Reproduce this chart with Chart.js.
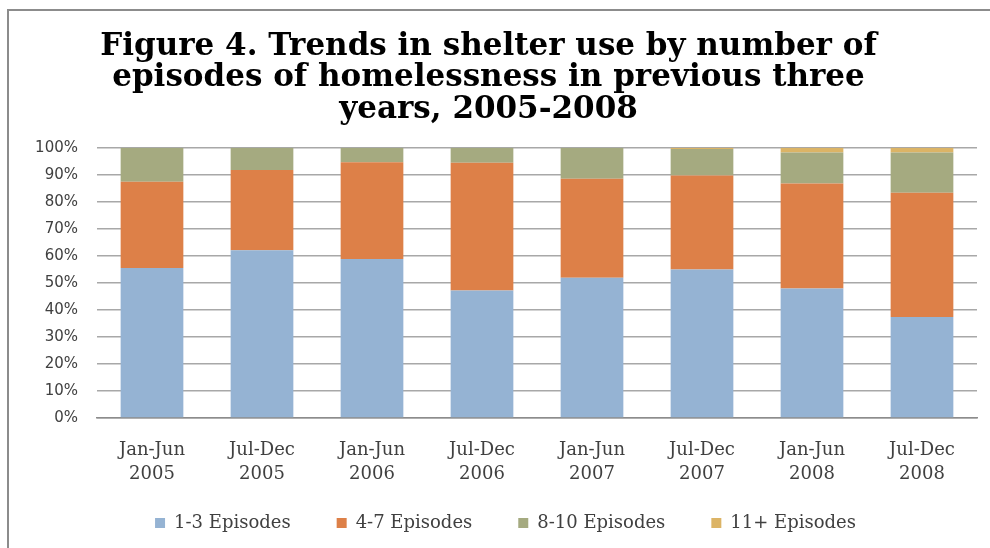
<!DOCTYPE html>
<html>
<head>
<meta charset="utf-8">
<script src="https://cdn.jsdelivr.net/npm/chart.js@4/dist/chart.umd.min.js"></script>
<style>
  html, body { margin: 0; padding: 0; background: #fff; }
</style>
</head>
<body>
<canvas id="chart" width="990" height="548"></canvas>
<script>
const periods = [
  ['Jan-Jun', '2005'], ['Jul-Dec', '2005'],
  ['Jan-Jun', '2006'], ['Jul-Dec', '2006'],
  ['Jan-Jun', '2007'], ['Jul-Dec', '2007'],
  ['Jan-Jun', '2008'], ['Jul-Dec', '2008']
];
const ep1to3 = [55.5, 62.1, 58.9, 47.2, 51.9, 55.0, 47.9, 37.4];
const ep4to7 = [32.0, 29.7, 35.8, 47.3, 36.7, 34.8, 38.9, 46.0];
const ep8to10 = [12.5, 8.2, 5.3, 5.5, 11.4, 9.8, 11.5, 14.9];
const ep11plus = [0, 0, 0, 0, 0, 0.4, 1.7, 1.7];

const serif = "'DejaVu Serif', serif";
const legendGap = 46;

// frame + legend placement tweaks
const framePlugin = {
  id: 'frame',
  beforeLayout(chart) {
    // the big horizontal gap between legend items should not add height
    const lg = chart.legend;
    if (lg && !lg._patched) {
      const fit = lg.fit.bind(lg);
      lg.fit = function () { fit(); this.height = 55; };
      lg._patched = true;
    }
  },
  afterLayout(chart) {
    const lg = chart.legend;
    lg.left += 17;
    lg.right += 17;
    lg.top = 514 - legendGap;
  },
  beforeDraw(chart) {
    const c = chart.ctx;
    c.save();
    c.strokeStyle = '#8c8c8c';
    c.lineWidth = 2;
    c.beginPath();
    c.moveTo(8, chart.height);
    c.lineTo(8, 10);
    c.lineTo(chart.width, 10);
    c.stroke();
    c.restore();
  }
};

const ctx = document.getElementById('chart');

const chart = new Chart(ctx, {
  type: 'bar',
  data: {
    labels: periods,
    datasets: [
      { label: '1-3 Episodes', data: ep1to3, backgroundColor: '#95b3d3' },
      { label: '4-7 Episodes', data: ep4to7, backgroundColor: '#dd8048' },
      { label: '8-10 Episodes', data: ep8to10, backgroundColor: '#a5aa80' },
      { label: '11+ Episodes', data: ep11plus, backgroundColor: '#dcb466' }
    ]
  },
  options: {
    responsive: false,
    animation: false,
    layout: { padding: { left: 0, right: 13, top: 18, bottom: 5 } },
    datasets: { bar: { barPercentage: 0.57, categoryPercentage: 1.0 } },
    scales: {
      x: {
        stacked: true,
        afterFit: (scale) => { scale.height = 70; },
        grid: { display: false },
        border: { color: '#8c8c8c', width: 1.5 },
        ticks: { color: '#404040', font: { family: serif, size: 18, lineHeight: 1.3 }, padding: 13, maxRotation: 0 }
      },
      y: {
        stacked: true,
        min: 0,
        max: 100,
        afterFit: (scale) => { scale.width = 97; },
        grid: { color: '#a8a8a8', lineWidth: 1.5, drawTicks: false },
        border: { display: false },
        ticks: {
          stepSize: 10,
          color: '#404040',
          padding: 19,
          font: { family: "'DejaVu Sans', sans-serif", size: 15 },
          callback: (v) => v + '%'
        }
      }
    },
    plugins: {
      title: {
        display: true,
        text: ['Figure 4. Trends in shelter use by number of',
               'episodes of homelessness in previous three',
               'years, 2005-2008'],
        color: '#000',
        font: { family: serif, size: 31, weight: 'bold', lineHeight: 1.02 },
        padding: { top: 13, bottom: 22 }
      },
      legend: {
        position: 'bottom',
        labels: {
          color: '#404040',
          font: { family: serif, size: 18 },
          boxWidth: 10,
          boxHeight: 10,
          padding: legendGap
        }
      },
      tooltip: { enabled: false }
    }
  },
  plugins: [framePlugin]
});
</script>
</body>
</html>
